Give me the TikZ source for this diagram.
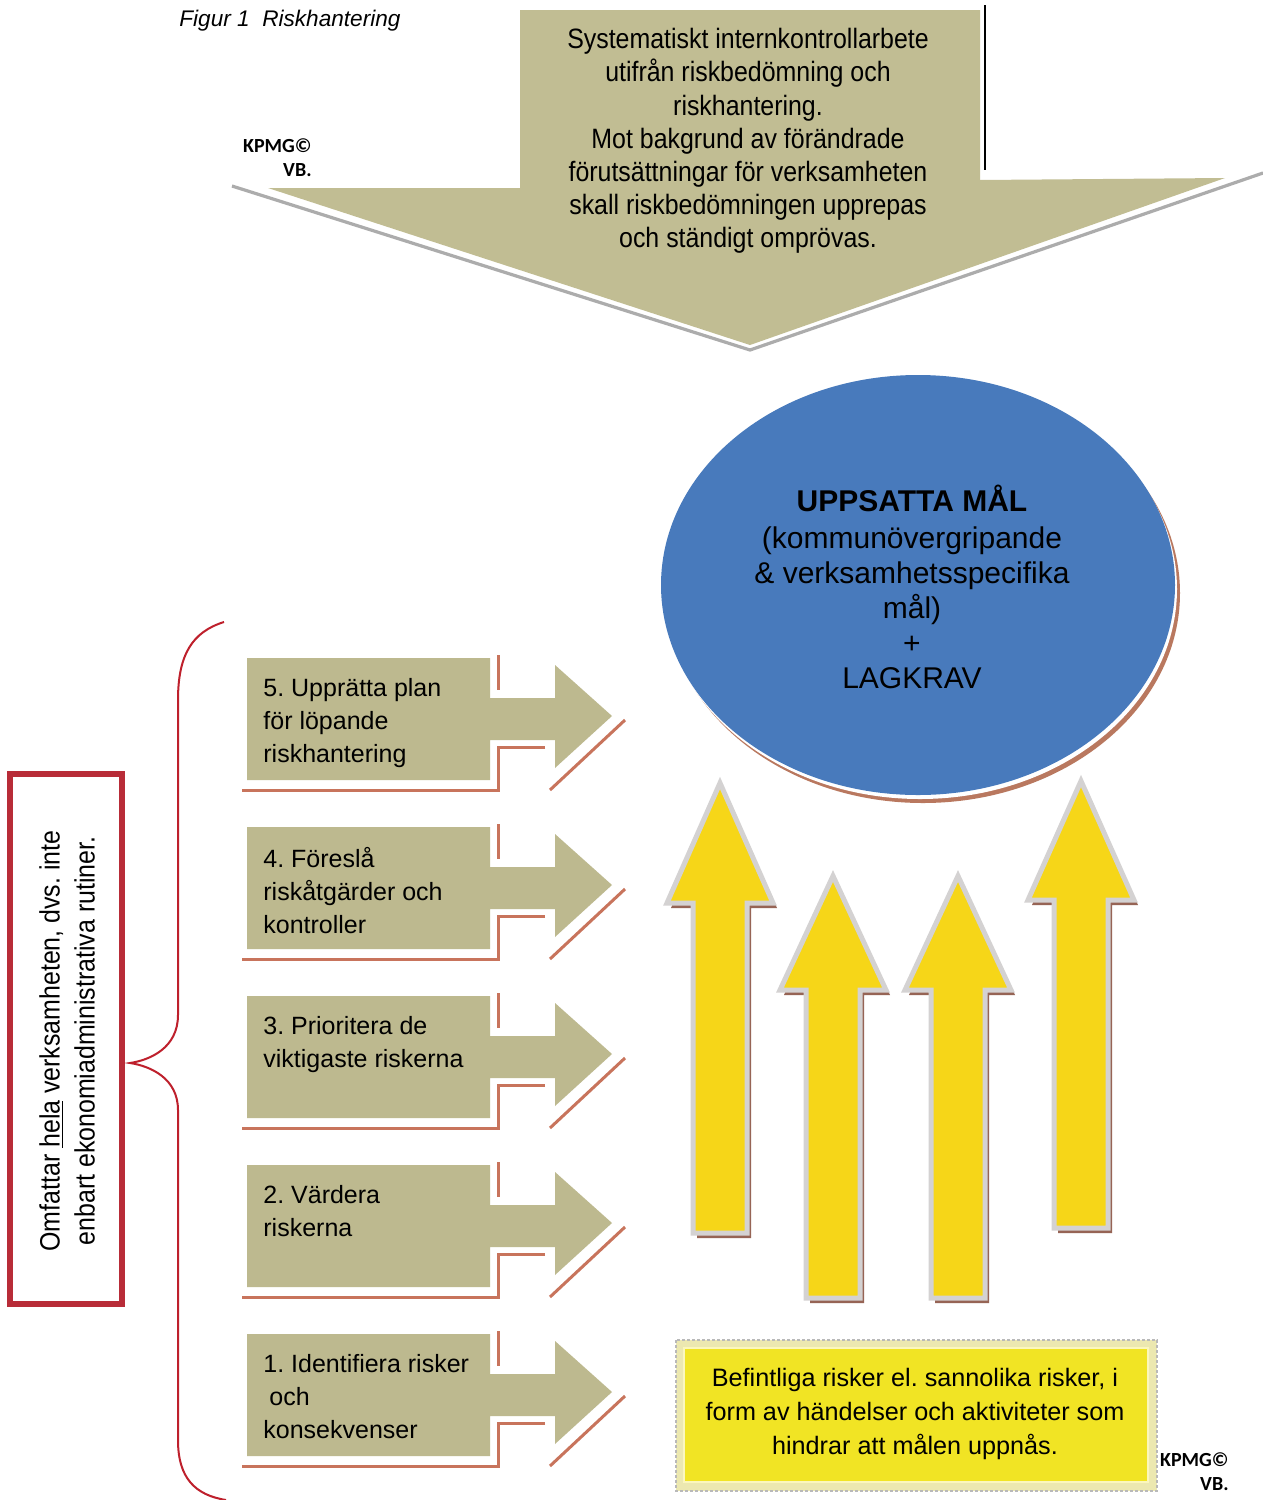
\documentclass[tikz,border=0pt]{standalone}
\usepackage{fontspec}
\usetikzlibrary{shapes.geometric}
\setmainfont{Liberation Sans}
\newfontfamily\narrowsans[FakeStretch=0.89]{Liberation Sans}
\newfontfamily\kpmgsans{Carlito}
\frenchspacing

\definecolor{khaki}{RGB}{189,185,143}
\definecolor{topkhaki}{RGB}{193,189,147}
\definecolor{stepbrown}{RGB}{200,116,92}
\definecolor{goalblue}{RGB}{72,122,188}
\definecolor{goalshade}{RGB}{185,120,95}
\definecolor{arrowyellow}{RGB}{246,214,24}
\definecolor{arrowrim}{RGB}{212,210,210}
\definecolor{arrowshade}{RGB}{150,100,85}
\definecolor{boxyellow}{RGB}{241,228,36}
\definecolor{boxrim}{RGB}{236,232,176}
\definecolor{redframe}{RGB}{184,44,56}
\definecolor{bracered}{RGB}{190,32,44}

\tikzset{
  stepshade/.style={draw=stepbrown, line width=1.5pt},
  steptext/.style={anchor=north west, align=left, inner sep=0pt,
    font=\fontsize{12.5pt}{16.5pt}\selectfont},
  kpmg/.style={anchor=north east, align=right, inner sep=0pt,
    font=\kpmgsans\bfseries\fontsize{10pt}{12pt}\selectfont},
  yarrowfill/.style={fill=arrowyellow, draw=arrowrim, line width=2.5pt, line join=miter},
  goalshape/.style={ellipse, minimum width=257pt, minimum height=210pt, inner sep=0pt},
}

% a grey-olive step box with its right-pointing arrow and brown offset shadow
\newcommand\riskstep[3]{%
  \begin{scope}[shift={(0,#1)}]
    \fill[khaki] (247,0) -- (490,0) -- (490,40) -- (555,40) -- (555,7)
      -- (612,58) -- (555,110) -- (555,82) -- (490,82) -- (490,122)
      -- (247,122) -- cycle;
    \draw[stepshade] (498,-3) -- (498,32);
    \draw[stepshade] (545,89) -- (498,89) -- (498,132) -- (242,132);
    \draw[stepshade] (625,62) -- (550,132);
    \node[steptext] (#2) at (263,20) {#3};
  \end{scope}}

% a yellow upward block arrow: centre x, tip y, wing y, bottom y
\newcommand\goalarrow[4]{%
  \begin{scope}[shift={(#1+4,5)}]
    \fill[arrowshade] (0,#2) -- (53,#3) -- (27,#3) -- (27,#4) -- (-27,#4)
      -- (-27,#3) -- (-53,#3) -- cycle;
  \end{scope}
  \begin{scope}[shift={(#1,0)}]
    \filldraw[yarrowfill] (0,#2) -- (53,#3) -- (27,#3) -- (27,#4) -- (-27,#4)
      -- (-27,#3) -- (-53,#3) -- cycle;
  \end{scope}}

\begin{document}
\begin{tikzpicture}[x=0.5pt,y=-0.5pt]
  \useasboundingbox[fill=white] (0,0) rectangle (1263,1500);

  % title
  \node[anchor=west, inner sep=0pt, font=\itshape\fontsize{11.3pt}{13pt}\selectfont]
    (title) at (179,21) {Figur 1\ \ Riskhantering};

  % big downward arrow at the top
  \draw[gray!65, line width=1.6pt] (232,186) -- (750,350) -- (1263,173);
  \fill[topkhaki] (520,10) -- (980,10) -- (980,180) -- (1225,178)
    -- (750,345) -- (268,188) -- (520,188) -- cycle;
  \draw[line width=1pt] (985,5) -- (985,170);
  \node[align=center, inner sep=0pt, font=\narrowsans\fontsize{14pt}{16.6pt}\selectfont]
    (control) at (748,141) {Systematiskt internkontrollarbete\\
      utifrån riskbedömning och\\riskhantering.\\
      Mot bakgrund av förändrade\\förutsättningar för verksamheten\\
      skall riskbedömningen upprepas\\och ständigt omprövas.};

  \node[kpmg] (kpmgtop) at (312,138) {KPMG©\\VB.};

  % goals ellipse with its shadow rim
  \node[goalshape, fill=goalshade] (goalshadow) at (923,593) {};
  \node[goalshape, fill=white] (goalrim) at (920,589) {};
  \node[goalshape, fill=goalblue] (goal) at (918,585) {};
  \node[align=center, inner sep=0pt, font=\fontsize{15pt}{17.5pt}\selectfont]
    (goaltext) at (912,587) {{\bfseries UPPSATTA MÅL}\\[1pt]
      (kommunövergripande\\\& verksamhetsspecifika\\mål)\\+\\LAGKRAV};

  % yellow arrows rising towards the goals
  \goalarrow{720}{783}{903}{1233}
  \goalarrow{833}{876}{990}{1298}
  \goalarrow{958}{876}{990}{1298}
  \goalarrow{1081}{781}{900}{1228}

  % process steps
  \riskstep{658}{stepfive}{5. Upprätta plan\\för löpande\\riskhantering}
  \riskstep{827}{stepfour}{4. Föreslå\\riskåtgärder och\\kontroller}
  \riskstep{996}{stepthree}{3. Prioritera de\\viktigaste riskerna}
  \riskstep{1165}{steptwo}{2. Värdera\\riskerna}
  \riskstep{1334}{stepone}{1. Identifiera risker\\\hspace*{3pt}och\\konsekvenser}

  % existing risks box
  \draw[gray!55, line width=1.2pt, dash pattern=on 1.5pt off 1pt, fill=boxrim]
    (676,1340) rectangle (1157,1491);
  \draw[white!70!boxyellow, line width=0.8pt, fill=boxyellow]
    (684,1348) rectangle (1148,1482);
  \node[align=center, inner sep=0pt, font=\fontsize{12.6pt}{16.8pt}\selectfont]
    (risks) at (915,1414) {Befintliga risker el. sannolika risker, i\\
      form av händelser och aktiviteter som\\hindrar att målen uppnås.};

  \node[kpmg] (kpmgbottom) at (1229,1452) {KPMG©\\VB.};

  % scope box and brace
  \draw[redframe, line width=2.6pt, fill=white] (10,774) rectangle (122,1304);
  \node[rotate=90, align=center, inner sep=0pt,
    font=\narrowsans\fontsize{14pt}{17.5pt}\selectfont]
    (scope) at (67,1041) {Omfattar \underline{hela} verksamheten, dvs. inte\\
      enbart ekonomiadministrativa rutiner.};
  \coordinate (bracetop) at (224,622);
  \coordinate (bracetip) at (130,1063);
  \coordinate (bracebottom) at (226,1500);
  \draw[bracered, line width=1pt]
    (bracetop) .. controls (192,632) and (178,655) .. (178,700)
    -- (178,1015) .. controls (178,1048) and (150,1060) .. (bracetip)
    .. controls (150,1066) and (178,1078) .. (178,1110)
    -- (178,1440) .. controls (178,1478) and (195,1495) .. (bracebottom);
\end{tikzpicture}
\end{document}
